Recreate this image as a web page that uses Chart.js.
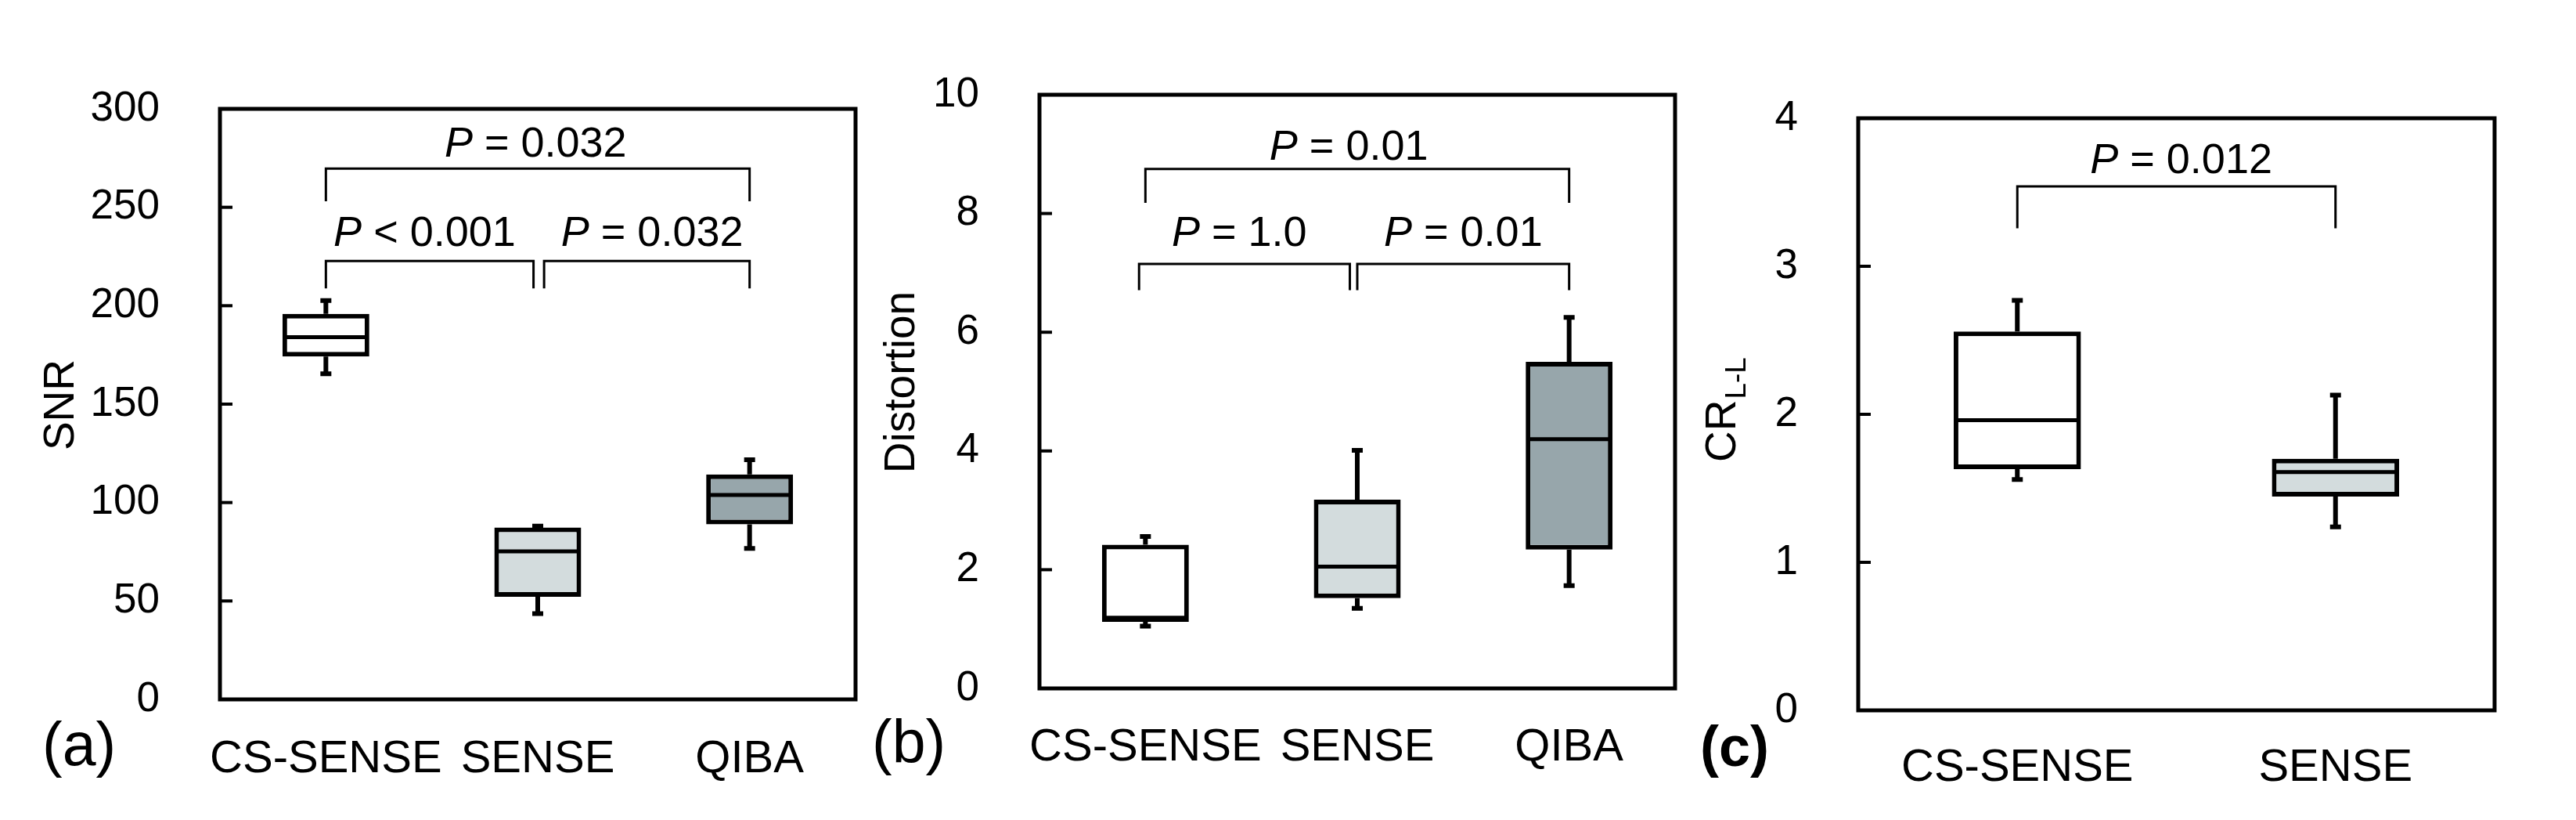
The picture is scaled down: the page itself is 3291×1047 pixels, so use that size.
<!DOCTYPE html>
<html>
<head>
<meta charset="utf-8">
<title>SNR, Distortion and CR box plots</title>
<script src="https://cdn.jsdelivr.net/npm/chart.js@4.4.1/dist/chart.umd.min.js"></script>
<style>
  html, body { margin: 0; padding: 0; background: #fff; }
  #wrap { position: relative; width: 3291px; height: 1047px; overflow: hidden; background: #fff; }
  canvas { position: absolute; top: 0; }
</style>
</head>
<body>
<div id="wrap">
  <canvas id="snrChart" style="left:0px"></canvas>
  <canvas id="distChart" style="left:1100px"></canvas>
  <canvas id="crChart" style="left:2150px"></canvas>
</div>
<script>
// ---- (a) SNR ----
const snrLabels = ["CS-SENSE", "SENSE", "QIBA"];
const snrMin = [165.4, 43.6, 76.7];
const snrQ1 = [174.2, 52.1, 88.9];
const snrMedian = [184.0, 75.2, 103.8];
const snrQ3 = [195.9, 87.3, 114.3];
const snrMax = [202.6, 88.0, 121.8];
const snrTicks = [0, 50, 100, 150, 200, 250, 300];
// significance brackets (category index from/to, bar level, leg end)
const snrBracketFrom = [0, 0, 1.03];
const snrBracketTo = [2, 0.98, 2];
const snrBracketTop = [269.7, 222.7, 222.7];
const snrBracketEnd = [253.1, 208.8, 208.8];
const snrPText = [" = 0.032", " < 0.001", " = 0.032"];
const snrPAt = [0.99, 0.466, 1.54];
const snrPLevel = [275.7, 230.5, 230.5];

// ---- (b) Distortion ----
const distLabels = ["CS-SENSE", "SENSE", "QIBA"];
const distMin = [1.05, 1.35, 1.73];
const distQ1 = [1.12, 1.52, 2.34];
const distMedian = [1.19, 2.05, 4.20];
const distQ3 = [2.42, 3.18, 5.50];
const distMax = [2.56, 4.01, 6.25];
const distTicks = [0, 2, 4, 6, 8, 10];
const distBracketFrom = [0, -0.03, 1.0];
const distBracketTo = [2, 0.965, 2];
const distBracketTop = [8.75, 7.15, 7.15];
const distBracketEnd = [8.18, 6.71, 6.71];
const distPText = [" = 0.01", " = 1.0", " = 0.01"];
const distPAt = [0.96, 0.443, 1.50];
const distPLevel = [8.91, 7.46, 7.46];

// ---- (c) CR L-L ----
const crLabels = ["CS-SENSE", "SENSE"];
const crMin = [1.56, 1.24];
const crQ1 = [1.63, 1.445];
const crMedian = [1.96, 1.61];
const crQ3 = [2.56, 1.70];
const crMax = [2.77, 2.13];
const crTicks = [0, 1, 2, 3, 4];
const crBracketFrom = [0];
const crBracketTo = [1];
const crBracketTop = [3.54];
const crBracketEnd = [3.256];
const crPText = [" = 0.012"];
const crPAt = [0.515];
const crPLevel = [3.63];

const FONT = "'Liberation Sans', Arial, Helvetica, sans-serif";
const WHITE = "#ffffff", LIGHT = "#d3dcdd", DARK = "#97a6ab";

// whiskers, medians, frame, inward ticks, brackets and texts
function boxDecor(p) {
  return {
    id: "boxDecor",
    beforeDatasetsDraw(chart) {
      const { ctx, scales: { x, y } } = chart;
      ctx.save();
      ctx.strokeStyle = "#000";
      ctx.lineCap = "butt";
      p.min.forEach((lo, i) => {
        const px = x.getPixelForValue(i);
        ctx.lineWidth = 6;
        ctx.beginPath();
        ctx.moveTo(px, y.getPixelForValue(lo));
        ctx.lineTo(px, y.getPixelForValue(p.q1[i]));
        ctx.moveTo(px, y.getPixelForValue(p.q3[i]));
        ctx.lineTo(px, y.getPixelForValue(p.max[i]));
        ctx.stroke();
        ctx.beginPath();
        [lo, p.max[i]].forEach(v => {
          const py = y.getPixelForValue(v);
          ctx.moveTo(px - 7, py);
          ctx.lineTo(px + 7, py);
        });
        ctx.stroke();
      });
      ctx.restore();
    },
    afterDatasetsDraw(chart) {
      const { ctx, chartArea: a, scales: { x, y } } = chart;
      const bars = chart.getDatasetMeta(0).data;
      ctx.save();
      ctx.strokeStyle = "#000";
      ctx.fillStyle = "#000";

      // medians
      ctx.lineWidth = 5;
      p.median.forEach((m, i) => {
        const py = y.getPixelForValue(m);
        const half = bars[i].width / 2;
        ctx.beginPath();
        ctx.moveTo(bars[i].x - half + 3, py);
        ctx.lineTo(bars[i].x + half - 3, py);
        ctx.stroke();
      });

      // frame
      ctx.lineWidth = 5;
      ctx.strokeRect(a.left, a.top, a.right - a.left, a.bottom - a.top);

      // inward ticks on the left axis
      ctx.lineWidth = 4;
      y.ticks.forEach(t => {
        if (t.value === y.min || t.value === y.max) return;
        const py = y.getPixelForValue(t.value);
        ctx.beginPath();
        ctx.moveTo(a.left, py);
        ctx.lineTo(a.left + 16, py);
        ctx.stroke();
      });

      // brackets
      ctx.lineWidth = 3;
      p.bFrom.forEach((f, i) => {
        const x1 = x.getPixelForValue(f), x2 = x.getPixelForValue(p.bTo[i]);
        const yt = y.getPixelForValue(p.bTop[i]), ye = y.getPixelForValue(p.bEnd[i]);
        ctx.beginPath();
        ctx.moveTo(x1, ye);
        ctx.lineTo(x1, yt);
        ctx.lineTo(x2, yt);
        ctx.lineTo(x2, ye);
        ctx.stroke();
      });

      // P labels
      ctx.textBaseline = "alphabetic";
      ctx.textAlign = "left";
      p.pText.forEach((txt, i) => {
        const italic = "italic 54px " + FONT, plain = "54px " + FONT;
        ctx.font = italic;
        const wP = ctx.measureText("P").width;
        ctx.font = plain;
        const wR = ctx.measureText(txt).width;
        const cx = x.getPixelForValue(p.pAt[i]);
        const by = y.getPixelForValue(p.pLevel[i]);
        const x0 = cx - (wP + wR) / 2;
        ctx.font = italic;
        ctx.fillText("P", x0, by);
        ctx.font = plain;
        ctx.fillText(txt, x0 + wP, by);
      });

      // axis title
      ctx.save();
      if (p.sub) {
        ctx.translate(p.titleX, p.titleY);
        ctx.rotate(-Math.PI / 2);
        ctx.textAlign = "left";
        ctx.textBaseline = "alphabetic";
        ctx.font = "55px " + FONT;
        ctx.fillText(p.title, 0, 0);
        const w = ctx.measureText(p.title).width;
        ctx.font = "37px " + FONT;
        ctx.fillText(p.sub, w + 1, 13);
      } else {
        ctx.translate(p.titleX, p.titleY);
        ctx.rotate(-Math.PI / 2);
        ctx.textAlign = "center";
        ctx.textBaseline = "middle";
        ctx.font = "55px " + FONT;
        ctx.fillText(p.title, 0, 0);
      }
      ctx.restore();

      // panel letter
      ctx.textAlign = "left";
      ctx.textBaseline = "middle";
      ctx.font = (p.letterBold ? "bold 72px " : "77px ") + FONT;
      ctx.fillText(p.letter, p.letterX, p.letterY);

      ctx.restore();
    }
  };
}

function makePanel(id, w, h, area, labels, stats, fills, ticks, barPct, xPad, decor) {
  const canvas = document.getElementById(id);
  canvas.width = w;
  canvas.height = h;
  canvas.style.width = w + "px";
  canvas.style.height = h + "px";
  return new Chart(canvas.getContext("2d"), {
    type: "bar",
    data: {
      labels: labels,
      datasets: [{
        data: stats.q1.map((v, i) => [v, stats.q3[i]]),
        backgroundColor: fills,
        borderColor: "#000",
        borderWidth: 6,
        borderSkipped: false,
        barPercentage: barPct,
        categoryPercentage: 1
      }]
    },
    options: {
      responsive: false,
      animation: false,
      devicePixelRatio: 1,
      layout: { padding: { left: 0, top: area.top, right: w - area.right, bottom: 0 } },
      plugins: { legend: { display: false }, tooltip: { enabled: false } },
      scales: {
        x: {
          offset: true,
          grid: { display: false },
          border: { display: false },
          ticks: {
            color: "#000",
            font: { family: FONT, size: 58 },
            padding: xPad,
            maxRotation: 0,
            minRotation: 0,
            autoSkip: false
          },
          afterFit: s => { s.height = h - area.bottom; }
        },
        y: {
          min: ticks[0],
          max: ticks[ticks.length - 1],
          grid: { display: false },
          border: { display: false },
          ticks: { color: "#000", font: { family: FONT, size: 53 }, padding: 69 },
          afterBuildTicks: s => { s.ticks = ticks.map(v => ({ value: v })); },
          afterFit: s => { s.width = area.left; }
        }
      }
    },
    plugins: [boxDecor(Object.assign({}, stats, decor))]
  });
}

makePanel("snrChart", 1100, 1047, { left: 281, right: 1093, top: 139, bottom: 893 },
  snrLabels,
  { min: snrMin, q1: snrQ1, median: snrMedian, q3: snrQ3, max: snrMax },
  [WHITE, LIGHT, DARK], snrTicks, 0.41, 34,
  { bFrom: snrBracketFrom, bTo: snrBracketTo, bTop: snrBracketTop, bEnd: snrBracketEnd,
    pText: snrPText, pAt: snrPAt, pLevel: snrPLevel,
    title: "SNR", titleX: 79, titleY: 517,
    letter: "(a)", letterX: 54, letterY: 956 });

makePanel("distChart", 1050, 1047, { left: 228, right: 1040, top: 121, bottom: 879 },
  distLabels,
  { min: distMin, q1: distQ1, median: distMedian, q3: distQ3, max: distMax },
  [WHITE, LIGHT, DARK], distTicks, 0.41, 33,
  { bFrom: distBracketFrom, bTo: distBracketTo, bTop: distBracketTop, bEnd: distBracketEnd,
    pText: distPText, pAt: distPAt, pLevel: distPLevel,
    title: "Distortion", titleX: 53, titleY: 488,
    letter: "(b)", letterX: 14, letterY: 953 });

makePanel("crChart", 1141, 1047, { left: 224, right: 1037, top: 151, bottom: 907 },
  crLabels,
  { min: crMin, q1: crQ1, median: crMedian, q3: crQ3, max: crMax },
  [WHITE, LIGHT], crTicks, 0.40, 31,
  { bFrom: crBracketFrom, bTo: crBracketTo, bTop: crBracketTop, bEnd: crBracketEnd,
    pText: crPText, pAt: crPAt, pLevel: crPLevel,
    title: "CR", sub: "L-L", titleX: 67, titleY: 590,
    letter: "(c)", letterBold: true, letterX: 22, letterY: 958 });
</script>
</body>
</html>
